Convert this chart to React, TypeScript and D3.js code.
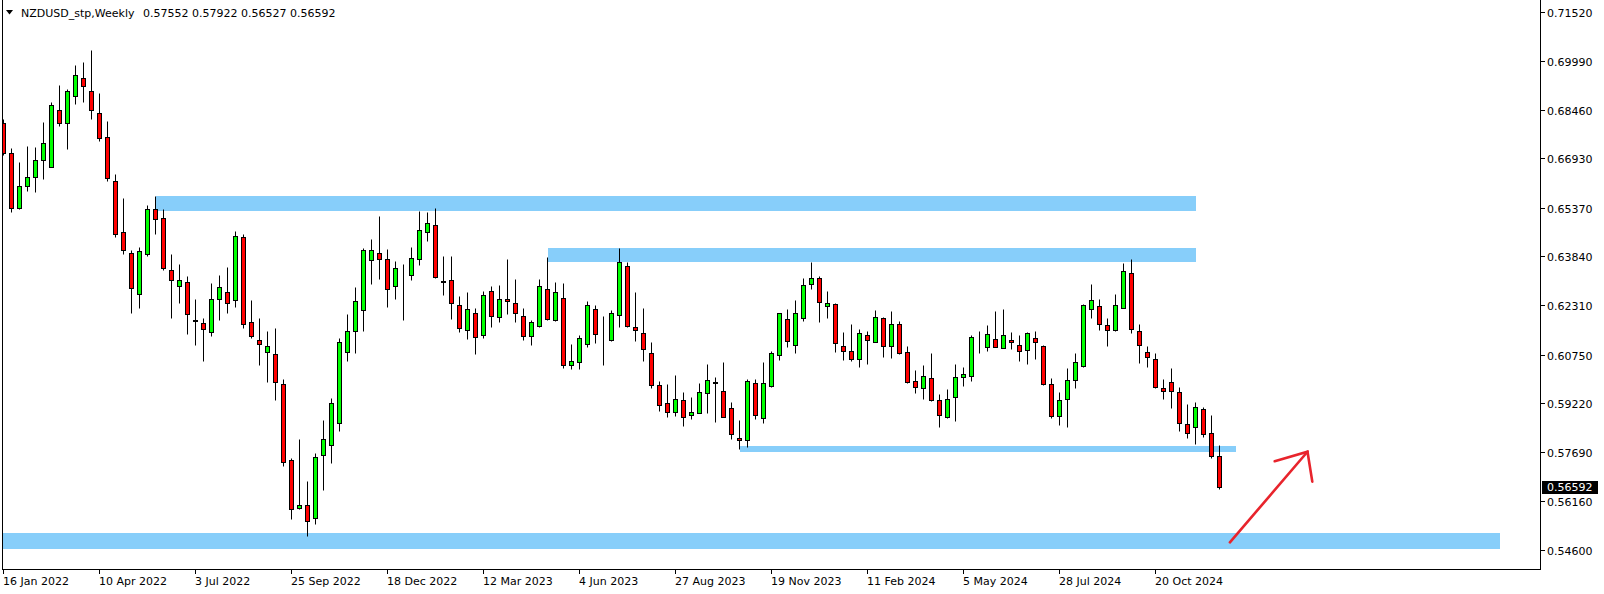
import React from 'react';
import * as d3 from 'd3';

const W = 1604;
const H = 594;

// Weekly NZDUSD bars, first bar = week of 16 Jan 2022
const opens = [
  0.6803, 0.6709, 0.6536, 0.6605, 0.6633, 0.6687, 0.6665, 0.6844, 0.6803, 0.6888,
  0.6945, 0.6904, 0.6834, 0.6759, 0.6621, 0.6460, 0.6394, 0.6265, 0.6391, 0.6533,
  0.6504, 0.6341, 0.6292, 0.6303, 0.6185, 0.6174, 0.6146, 0.6249, 0.6271, 0.6246,
  0.6444, 0.6177, 0.6120, 0.6083, 0.6077, 0.5982, 0.5743, 0.5592, 0.5602, 0.5561,
  0.5759, 0.5790, 0.5859, 0.6085, 0.6149, 0.6215, 0.6372, 0.6394, 0.6375, 0.6290,
  0.6343, 0.6325, 0.6375, 0.6460, 0.6482, 0.6307, 0.6309, 0.6231, 0.6152, 0.6205,
  0.6136, 0.6275, 0.6193, 0.6249, 0.6237, 0.6196, 0.6133, 0.6165, 0.6281, 0.6183,
  0.6253, 0.6042, 0.6051, 0.6108, 0.6218, 0.6135, 0.6121, 0.6199, 0.6353, 0.6161,
  0.6143, 0.6080, 0.5979, 0.5922, 0.5894, 0.5932, 0.5885, 0.5891, 0.5954, 0.5988,
  0.5960, 0.5907, 0.5812, 0.5806, 0.5985, 0.5875, 0.5976, 0.6073, 0.6186, 0.6105,
  0.6190, 0.6297, 0.6315, 0.6227, 0.6234, 0.6102, 0.6086, 0.6061, 0.6136, 0.6114,
  0.6190, 0.6102, 0.6171, 0.6083, 0.5991, 0.5970, 0.6001, 0.5932, 0.5878, 0.5941,
  0.6004, 0.6007, 0.6121, 0.6098, 0.6124, 0.6095, 0.6120, 0.6105, 0.6089, 0.6127,
  0.6102, 0.5984, 0.5881, 0.5935, 0.5995, 0.6039, 0.6218, 0.6227, 0.6168, 0.6152,
  0.6221, 0.6331, 0.6149, 0.6083, 0.6061, 0.5969, 0.5988, 0.5957, 0.5856, 0.5847,
  0.5903, 0.5828, 0.57552,
];
const highs = [
  0.6816, 0.6724, 0.6680, 0.6732, 0.6728, 0.6806, 0.6870, 0.6922, 0.6910, 0.6986,
  0.6995, 0.7033, 0.6897, 0.6810, 0.6643, 0.6568, 0.6404, 0.6413, 0.6546, 0.6574,
  0.6533, 0.6391, 0.6361, 0.6323, 0.6249, 0.6190, 0.6300, 0.6325, 0.6350, 0.6464,
  0.6455, 0.6246, 0.6190, 0.6149, 0.6158, 0.5998, 0.5749, 0.5809, 0.5677, 0.5765,
  0.5869, 0.5938, 0.6127, 0.6202, 0.6287, 0.6410, 0.6438, 0.6511, 0.6407, 0.6369,
  0.6360, 0.6413, 0.6527, 0.6524, 0.6536, 0.6385, 0.6385, 0.6259, 0.6271, 0.6221,
  0.6275, 0.6290, 0.6294, 0.6375, 0.6312, 0.6221, 0.6183, 0.6312, 0.6382, 0.6303,
  0.6300, 0.6108, 0.6136, 0.6243, 0.6230, 0.6196, 0.6215, 0.6410, 0.6366, 0.6271,
  0.6221, 0.6114, 0.5992, 0.5982, 0.6010, 0.5957, 0.5941, 0.5985, 0.6045, 0.6004,
  0.6051, 0.5925, 0.5869, 0.5998, 0.5998, 0.6051, 0.6086, 0.6205, 0.6218, 0.6246,
  0.6315, 0.6367, 0.6322, 0.6275, 0.6237, 0.6146, 0.6171, 0.6155, 0.6149, 0.6215,
  0.6193, 0.6212, 0.6180, 0.6102, 0.6026, 0.6042, 0.6080, 0.5951, 0.5966, 0.6045,
  0.6036, 0.6136, 0.6149, 0.6168, 0.6212, 0.6218, 0.6146, 0.6136, 0.6146, 0.6150,
  0.6105, 0.6003, 0.5959, 0.6032, 0.6080, 0.6234, 0.6297, 0.6249, 0.6190, 0.6265,
  0.6363, 0.6375, 0.6171, 0.6102, 0.6080, 0.5998, 0.6032, 0.5973, 0.5919, 0.5925,
  0.5910, 0.5885, 0.57922,
];
const lows = [
  0.6703, 0.6525, 0.6532, 0.6591, 0.6588, 0.6627, 0.6665, 0.6794, 0.6723, 0.6863,
  0.6871, 0.6817, 0.6748, 0.6622, 0.6446, 0.6391, 0.6207, 0.6223, 0.6386, 0.6456,
  0.6342, 0.6192, 0.6239, 0.6141, 0.6106, 0.6055, 0.6135, 0.6185, 0.6207, 0.6226,
  0.6160, 0.6129, 0.6044, 0.5990, 0.5934, 0.5724, 0.5559, 0.5590, 0.5506, 0.5544,
  0.5651, 0.5736, 0.5836, 0.6056, 0.6082, 0.6151, 0.6298, 0.6314, 0.6226, 0.6251,
  0.6185, 0.6310, 0.6356, 0.6434, 0.6317, 0.6264, 0.6188, 0.6148, 0.6126, 0.6078,
  0.6127, 0.6163, 0.6177, 0.6204, 0.6177, 0.6122, 0.6107, 0.6161, 0.6183, 0.6181,
  0.6032, 0.6029, 0.6029, 0.6100, 0.6113, 0.6044, 0.6119, 0.6161, 0.6161, 0.6117,
  0.6056, 0.5970, 0.5899, 0.5880, 0.5883, 0.5852, 0.5874, 0.5891, 0.5893, 0.5864,
  0.5878, 0.5811, 0.5778, 0.5784, 0.5874, 0.5859, 0.5973, 0.6057, 0.6098, 0.6080,
  0.6180, 0.6281, 0.6177, 0.6191, 0.6083, 0.6057, 0.6054, 0.6036, 0.6045, 0.6114,
  0.6067, 0.6064, 0.6076, 0.5985, 0.5954, 0.5935, 0.5929, 0.5847, 0.5875, 0.5867,
  0.5976, 0.5992, 0.6080, 0.6086, 0.6098, 0.6095, 0.6092, 0.6054, 0.6045, 0.6061,
  0.5981, 0.5875, 0.5853, 0.5847, 0.5970, 0.6036, 0.6190, 0.6152, 0.6102, 0.6149,
  0.6221, 0.6142, 0.6048, 0.6036, 0.5969, 0.5935, 0.5907, 0.5834, 0.5812, 0.5793,
  0.5815, 0.5749, 0.56527,
];
const closes = [
  0.6709, 0.6536, 0.6606, 0.6634, 0.6687, 0.6740, 0.6860, 0.6803, 0.6904, 0.6954,
  0.6919, 0.6844, 0.6756, 0.6630, 0.6454, 0.6404, 0.6284, 0.6400, 0.6533, 0.6501,
  0.6349, 0.6309, 0.6309, 0.6202, 0.6182, 0.6155, 0.6249, 0.6287, 0.6237, 0.6448,
  0.6171, 0.6133, 0.6108, 0.6102, 0.5988, 0.5739, 0.5589, 0.5602, 0.5551, 0.5753,
  0.5809, 0.5922, 0.6114, 0.6149, 0.6243, 0.6404, 0.6404, 0.6375, 0.6281, 0.6347,
  0.6341, 0.6378, 0.6466, 0.6488, 0.6321, 0.6303, 0.6237, 0.6158, 0.6218, 0.6130,
  0.6262, 0.6196, 0.6249, 0.6243, 0.6205, 0.6133, 0.6177, 0.6290, 0.6187, 0.6271,
  0.6042, 0.6054, 0.6127, 0.6230, 0.6139, 0.6133, 0.6205, 0.6366, 0.6165, 0.6152,
  0.6092, 0.5979, 0.5916, 0.5894, 0.5935, 0.5878, 0.5894, 0.5957, 0.5995, 0.5986,
  0.5878, 0.5825, 0.5806, 0.5991, 0.5885, 0.5985, 0.6080, 0.6205, 0.6117, 0.6205,
  0.6293, 0.6315, 0.6240, 0.6237, 0.6111, 0.6086, 0.6061, 0.6142, 0.6120, 0.6193,
  0.6102, 0.6171, 0.6080, 0.5988, 0.5973, 0.6007, 0.5932, 0.5885, 0.5935, 0.6004,
  0.6013, 0.6130, 0.6120, 0.6139, 0.6098, 0.6136, 0.6114, 0.6086, 0.6142, 0.6114,
  0.5984, 0.5881, 0.5934, 0.5995, 0.6051, 0.6231, 0.6246, 0.6171, 0.6152, 0.6231,
  0.6337, 0.6155, 0.6105, 0.6067, 0.5973, 0.5960, 0.5960, 0.5859, 0.5828, 0.5910,
  0.5825, 0.5756, 0.56592,
];

const priceTicks = [0.7152, 0.6999, 0.6846, 0.6693, 0.6537, 0.6384, 0.6231, 0.6075, 0.5922, 0.5769, 0.5616, 0.546];
const dateLabels = [
  '16 Jan 2022', '10 Apr 2022', '3 Jul 2022', '25 Sep 2022', '18 Dec 2022', '12 Mar 2023', '4 Jun 2023',
  '27 Aug 2023', '19 Nov 2023', '11 Feb 2024', '5 May 2024', '28 Jul 2024', '20 Oct 2024',
];
const dateLabelBars = [0, 12, 24, 36, 48, 60, 72, 84, 96, 108, 120, 132, 144];

// drawn zones: [fromBar, toBar, topPrice, bottomPrice]
const zoneFrom = [19, 68, 92, -2];
const zoneTo = [149, 149, 154, 187];
const zoneTop = [0.6574, 0.6411, 0.5788, 0.5514];
const zoneBottom = [0.6527, 0.6367, 0.5769, 0.5464];

// drawn arrow: shaft start, tip, two head ends (bar index, price)
const arrowBars = [153.3, 163.0, 158.9, 163.6];
const arrowPrices = [0.5485, 0.5770, 0.5740, 0.5676];

const title = 'NZDUSD_stp,Weekly';
const lastPrice = 0.56592;

const FONT = 'DejaVu Sans, Verdana, sans-serif';

export default function App() {
  const plotRight = 1540;
  const plotBottom = 569;
  const x = d3.scaleLinear().domain([0, 152]).range([3.5, 3.5 + 8 * 152]);
  const y = d3.scaleLinear().domain([0.546, 0.7152]).range([550.3, 12.3]);
  const ry = (p: number) => Math.round(y(p));

  const candles = opens.map((o, i) => {
    const c = closes[i];
    const cx = x(i);
    const yo = ry(o);
    const yc = ry(c);
    const top = Math.min(yo, yc);
    const bot = Math.max(yo, yc);
    const bull = c >= o;
    return (
      <g key={i}>
        <line x1={cx} x2={cx} y1={ry(highs[i]) + 0.5} y2={ry(lows[i]) + 0.5} stroke="#000" strokeWidth={1} />
        <rect x={cx - 2} y={top + 0.5} width={4} height={Math.max(bot - top, 0)}
          fill={bull ? '#00ff00' : '#ff0000'} stroke="#000" strokeWidth={1} />
      </g>
    );
  });

  const zones = zoneFrom.map((f, k) => {
    const x0 = Math.round(x(f));
    const x1 = Math.round(x(zoneTo[k]));
    const y0 = ry(zoneTop[k]);
    const y1 = ry(zoneBottom[k]);
    return <rect key={k} x={x0} y={y0} width={x1 - x0} height={y1 - y0} fill="#87cefa" />;
  });

  const ap = arrowBars.map((b, k) => [x(b), y(arrowPrices[k])]);
  const line = d3.line();

  return (
    <svg width={W} height={H} style={{ position: 'absolute', left: 0, top: 0, background: '#fff' }}>
      <defs>
        <clipPath id="plot">
          <rect x={3} y={0} width={plotRight - 3} height={plotBottom} />
        </clipPath>
      </defs>
      <rect x={0} y={0} width={W} height={H} fill="#fff" />
      <g clipPath="url(#plot)">
        {zones}
        {candles}
        <g stroke="#e8242c" strokeWidth={2.6} fill="none" strokeLinecap="round">
          <path d={line([ap[0] as [number, number], ap[1] as [number, number]]) || ''} />
          <path d={line([ap[2] as [number, number], ap[1] as [number, number], ap[3] as [number, number]]) || ''} />
        </g>
      </g>
      {/* frame */}
      <line x1={2.5} x2={2.5} y1={0} y2={plotBottom + 0.5} stroke="#000" />
      <line x1={2} x2={plotRight + 1} y1={plotBottom + 0.5} y2={plotBottom + 0.5} stroke="#000" />
      <line x1={plotRight + 0.5} x2={plotRight + 0.5} y1={0} y2={plotBottom + 1} stroke="#000" />
      {/* title */}
      <path d="M6,10 L13,10 L9.5,14.5 Z" fill="#000" />
      <text x={21} y={16.5} fontFamily={FONT} fontSize={11} fill="#000">{title}</text>
      <text x={143} y={16.5} fontFamily={FONT} fontSize={11} fill="#000">
        {[opens[152], highs[152], lows[152], closes[152]].map((v) => v.toFixed(5)).join(' ')}
      </text>
      {/* price axis */}
      {priceTicks.map((p, k) => {
        const ty = ry(p) + 0.5;
        return (
          <g key={k}>
            <line x1={plotRight + 1} x2={plotRight + 5} y1={ty} y2={ty} stroke="#000" />
            <text x={1547} y={ty + 4} fontFamily={FONT} fontSize={11} fill="#000">{p.toFixed(5)}</text>
          </g>
        );
      })}
      <rect x={1542} y={ry(lastPrice) - 6} width={56} height={13} fill="#000" />
      <text x={1547} y={ry(lastPrice) + 4} fontFamily={FONT} fontSize={11} fill="#fff">{lastPrice.toFixed(5)}</text>
      {/* time axis */}
      {dateLabelBars.map((b, k) => {
        const tx = x(b);
        return (
          <g key={k}>
            <line x1={tx} x2={tx} y1={plotBottom + 1} y2={plotBottom + 5} stroke="#000" />
            <text x={tx - 0.5} y={585} fontFamily={FONT} fontSize={11} fill="#000">{dateLabels[k]}</text>
          </g>
        );
      })}
    </svg>
  );
}
